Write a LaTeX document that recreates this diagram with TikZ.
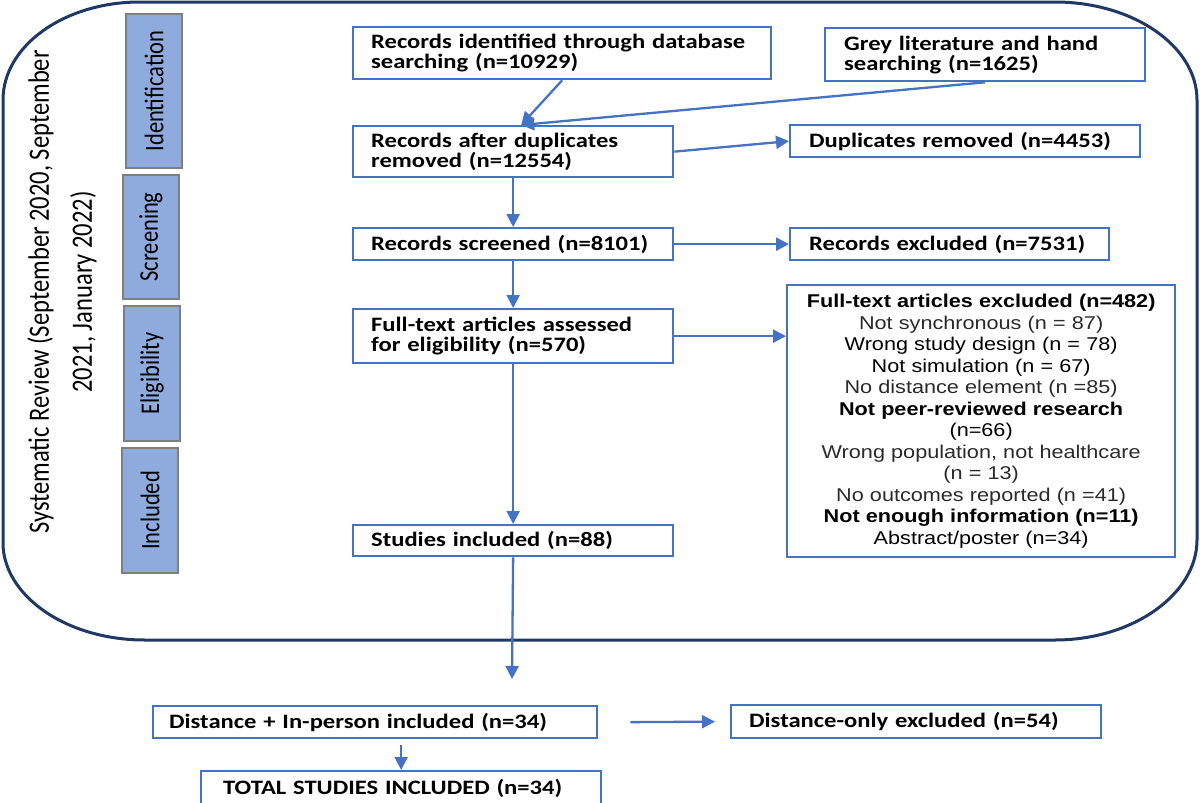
\documentclass[tikz,border=0pt]{standalone}
\usepackage{fontspec}
\usepackage{graphicx}
\usetikzlibrary{arrows.meta,calc}
\newfontfamily\boxfont[FakeStretch=1.2]{Carlito}
\newfontfamily\exfont[FakeStretch=1.17]{Liberation Sans}
\newfontfamily\sidefont[FakeStretch=0.833]{Carlito}
\definecolor{bblue}{HTML}{4472C4}
\definecolor{sblue}{HTML}{8FAADC}
\definecolor{sgray}{HTML}{7F7F7F}
\definecolor{navy}{HTML}{1F3864}
\definecolor{exgray}{HTML}{2A2A2A}
\tikzset{
  box/.style={draw=bblue, line width=2.3pt, fill=white, anchor=north west,
    inner xsep=18pt, inner ysep=0pt, align=left,
    font=\boxfont\fontsize{20.5}{20}\selectfont\bfseries},
  exbox/.style={draw=bblue, line width=2.3pt, fill=white, anchor=north west,
    inner xsep=10pt, inner ysep=0pt, align=center,
    font=\exfont\fontsize{18.5}{21.5}\selectfont},
  side/.style={draw=sgray, line width=2pt, fill=sblue, rotate=90,
    inner sep=0pt, minimum height=56pt,
    font=\sidefont\fontsize{27}{28}\selectfont},
  ttl/.style={rotate=90, align=center, inner sep=0pt,
    font=\sidefont\fontsize{29.5}{43}\selectfont},
  arr/.style={draw=bblue, line width=2.3pt, -{Triangle[length=13pt,width=13pt]}},
  frame/.style={draw=navy, line width=3pt}
}
\begin{document}
\begin{tikzpicture}[x=1pt,y=-1pt]
\useasboundingbox (0,0) rectangle (1200,803);
% outer rounded frame
\draw[frame] (140,2) -- (1055,2) .. controls (1133,2) and (1197,46) .. (1197,100)
  -- (1197,540) .. controls (1197,594) and (1133,640) .. (1055,640)
  -- (145,640) .. controls (64,640) and (3,594) .. (3,543)
  -- (3,100) .. controls (3,46) and (64,2) .. (140,2) -- cycle;
% title
\node[ttl] (title) at (62,292) {Systematic Review (September 2020, September\\2021, January 2022)};
% side labels
\node[side, minimum width=154pt] (sid) at (154,91) {Identification};
\node[side, minimum width=124pt] (ssc) at (151,237) {Screening};
\node[side, minimum width=135pt] (sel) at (152,373.5) {Eligibility};
\node[side, minimum width=125pt] (sin) at (150,510.5) {Included};
% boxes
\node[box, text width=382pt, minimum height=52pt] (db) at (352,26) {Records identified through database\\searching (n=10929)};
\node[box, text width=282pt, minimum height=53pt, inner xsep=19pt] (grey) at (824,27) {Grey literature and hand\\searching (n=1625)};
\node[box, text width=284pt, minimum height=51pt] (after) at (352,125) {Records after duplicates\\removed (n=12554)};
\node[box, text width=312pt, minimum height=32pt, inner xsep=19pt] (dup) at (789,124) {Duplicates removed (n=4453)};
\node[box, text width=284pt, minimum height=32pt] (scr) at (352,227) {Records screened (n=8101)};
\node[box, text width=281pt, minimum height=32pt, inner xsep=19pt] (rex) at (789,227) {Records excluded (n=7531)};
\node[box, text width=284pt, minimum height=54pt] (ft) at (352,308) {Full-text articles assessed\\for eligibility (n=570)};
\node[exbox, text width=368pt, minimum height=272pt] (ftex) at (786,284) {%
{\bfseries Full-text articles excluded (n=482)}\\
{\color{exgray}Not synchronous (n = 87)}\\
Wrong study design (n = 78)\\
Not simulation (n = 67)\\
{\color{exgray}No distance element (n =85)}\\
{\bfseries Not peer-reviewed research}\\
(n=66)\\
{\color{exgray}Wrong population, not healthcare}\\
{\color{exgray}(n = 13)}\\
{\color{exgray}No outcomes reported (n =41)}\\
{\bfseries Not enough information (n=11)}\\
Abstract/poster (n=34)};
\node[box, text width=284pt, minimum height=31pt] (inc) at (352,524) {Studies included (n=88)};
\coordinate (incend) at (512,679);
\node[box, text width=412pt, minimum height=32pt, inner xsep=16pt] (dip) at (152,705) {Distance + In-person included (n=34)};
\node[box, text width=334pt, minimum height=33pt] (donly) at (730,704) {Distance-only excluded (n=54)};
\node[box, text width=356pt, minimum height=35pt, inner xsep=22pt] (total) at (200,770) {TOTAL STUDIES INCLUDED (n=34)};
% arrows
\draw[arr] (db.south) -- ([xshift=8pt]after.north);
\draw[arr] (grey.south) -- ([xshift=8pt]after.north);
\draw[arr] (after.east) -- (dup.west);
\draw[arr] (after.south) -- (scr.north);
\draw[arr] (scr.east) -- (rex.west);
\draw[arr] (scr.south) -- (ft.north);
\draw[arr] (ft.east) -- (ft.east -| ftex.west);
\draw[arr] (ft.south) -- (inc.north);
\draw[arr] (inc.south) -- (incend);
\draw[arr] ([xshift=32pt]dip.east) -- ([xshift=-15pt]donly.west);
\draw[arr] ([yshift=25pt]total.north) -- (total.north);
\end{tikzpicture}
\end{document}
